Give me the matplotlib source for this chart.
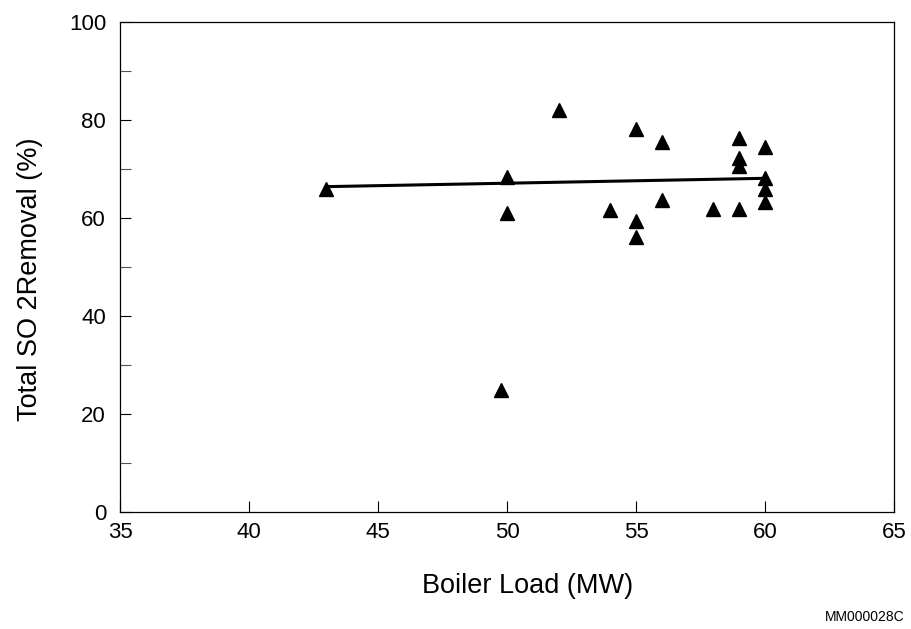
import numpy as np
import matplotlib
matplotlib.use('Agg')
import matplotlib.pyplot as plt

plt.rcParams['font.family'] = ['Liberation Sans', 'DejaVu Sans']

# boiler load (MW) vs total SO2 removal (%)
load = [43.0, 50.0, 50.0, 49.75, 52.0, 55.0, 56.0, 54.0, 55.0, 55.0,
        56.0, 58.0, 59.0, 59.0, 59.0, 59.0, 60.0, 60.0, 60.0, 60.0]
removal = [65.9, 68.4, 61.0, 25.0, 82.0, 78.1, 75.5, 61.6, 59.4, 56.2,
           63.7, 61.8, 61.8, 76.3, 72.2, 70.7, 74.5, 68.1, 65.9, 63.2]

# trend line end points
fit_x = [43.0, 60.0]
fit_y = [66.4, 68.1]

xticks = [35, 40, 45, 50, 55, 60, 65]
yticks = [0, 20, 40, 60, 80, 100]

fig = plt.figure(figsize=(9.12, 6.29), dpi=100)
ax = fig.add_axes([120/912, 1 - 512/629, (894 - 120)/912, (512 - 22)/629])

ax.plot(fit_x, fit_y, color='black', lw=2.2, solid_capstyle='butt', zorder=2)
ax.plot(load, removal, linestyle='none', marker='^', ms=10, color='black', zorder=3)

ax.set_xlim(35, 65)
ax.set_ylim(0, 100)
ax.set_xticks(xticks)
ax.set_yticks(yticks)
ax.set_yticks(np.arange(10, 100, 20), minor=True)
ax.tick_params(axis='both', which='major', direction='in', length=8, width=0.8,
               labelsize=16, colors='black')
ax.tick_params(axis='x', pad=7)
ax.tick_params(axis='y', pad=10)
ax.tick_params(axis='y', which='minor', direction='in', length=8, width=0.8, color='#555555')
ax.tick_params(top=False, right=False)
for s in ax.spines.values():
    s.set_linewidth(0.9)
    s.set_color('black')

ax.set_xlabel('Boiler Load (MW)', fontsize=19.5)
ax.set_ylabel('Total SO 2Removal (%)', fontsize=19.5)
ax.xaxis.set_label_coords(0.527, -0.125)
ax.yaxis.set_label_coords(-0.100, 0.475)

fig.text(905/912, 1 - 617/629, 'MM000028C', fontsize=10, ha='right', va='center')

fig.savefig('out.png', dpi=100)
